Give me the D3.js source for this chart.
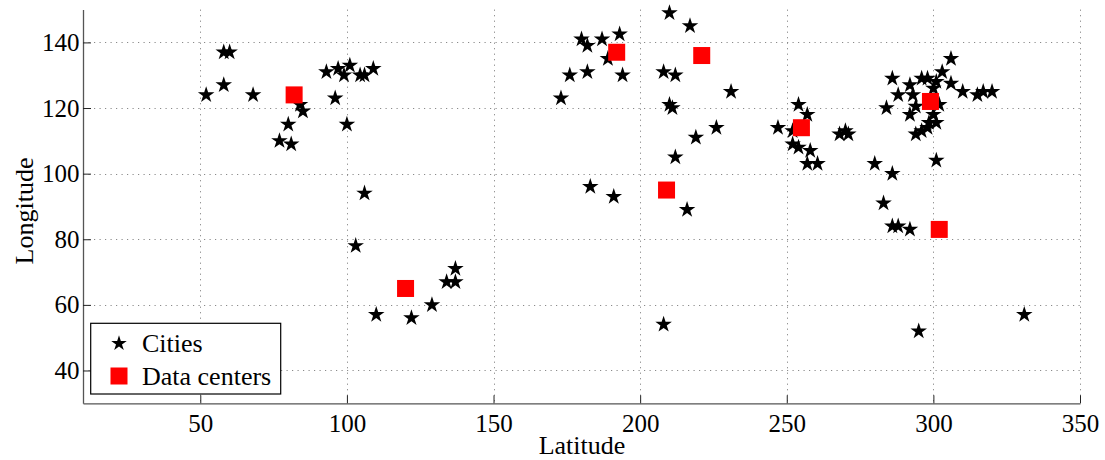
<!DOCTYPE html>
<html>
<head>
<meta charset="utf-8">
<script src="https://cdn.jsdelivr.net/npm/d3@7"></script>
<style>
html,body{margin:0;padding:0;background:#fff;}
svg{display:block;}
svg text{font-family:"Liberation Serif","Times New Roman",Times,serif !important;}
</style>
</head>
<body>
<svg id="chart" width="1105" height="460"></svg>
<script>
const cityLat = [52,58,58,60,68,84,85,80,77,81,93,97,99,101,104.5,106,109,96,100,106,103,110,122,129,134,137,137,
  173,176,180,182,182,187,189,193,194,183,191,208,210,212,217,210,211,212,219,226,231,216,208,
  247,254,257,252,252,254,258,257,260.5,268,270,271,280,286,284,283,286,288,292,295,331,
  286,292,296,298,303,306,301,300,306,310,288,293,294,292,300,301,298.5,298,296,294,315,317,320,301,302];
const cityLon = [124,127,137,137,124,121,119,115,110,109,131,132,130,133,130,130,132,123,115,94,78,57,56,60,67,67,71,
  123,130,141,139,131,141,135,142.5,130,96,93,131,149,130,145,121,120,105,111,114,125,89,54,
  114,121,118,113,109,108,107,103,103,112,113,112,103,100,120,91,84,84,83,52,57,
  129,127,129,129,131,135,128,126,127.5,125,124,124,120.5,118,118,115.5,115.5,114,113,112,124,125,125,104,121];
const dcLat = [82,120,192,209,221,255,299,302];
const dcLon = [124,65,137,95,136,114,122,83];
const xTicks = [50,100,150,200,250,300,350];
const yTicks = [40,60,80,100,120,140];
const legendLabels = ["Cities","Data centers"];

const svg = d3.select("#chart");
const L = 83, R = 1080, T = 9.6, B = 403.3;
const x = d3.scaleLinear().domain([10,350]).range([L,R]);
const y = d3.scaleLinear().domain([30,150]).range([B,T]);
const FONT = "Liberation Serif";

// grid
const grid = svg.append("g").attr("stroke","#8a8a8a").attr("stroke-width",1).attr("stroke-dasharray","1.2,4.3");
grid.selectAll(".gx").data(xTicks).join("line")
  .attr("x1",d=>Math.round(x(d))+0.5).attr("x2",d=>Math.round(x(d))+0.5).attr("y1",T).attr("y2",B);
grid.selectAll(".gy").data(yTicks).join("line")
  .attr("y1",d=>Math.round(y(d))+0.5).attr("y2",d=>Math.round(y(d))+0.5).attr("x1",L).attr("x2",R);

// axes
const xAxis = d3.axisBottom(x).tickValues(xTicks).tickSizeInner(-8).tickSizeOuter(0).tickPadding(10.5);
const yAxis = d3.axisLeft(y).tickValues(yTicks).tickSizeInner(-8).tickSizeOuter(0).tickPadding(3.5);
const gx = svg.append("g").attr("transform",`translate(0,${B})`).call(xAxis);
const gy = svg.append("g").attr("transform",`translate(${L},0)`).call(yAxis);
[gx,gy].forEach(g=>{
  g.attr("font-family",FONT).attr("font-size",25);
  g.select(".domain").attr("stroke","#555").attr("stroke-width",1.3);
  g.selectAll(".tick line").attr("stroke","#222");
  g.selectAll(".tick text").attr("font-family",FONT).attr("font-size",25).attr("fill","#000");
});

// data
const star = d3.symbol().type(d3.symbolStar).size(85);
const cities = cityLat.map((d,i)=>({lat:d,lon:cityLon[i]}));
svg.append("g").selectAll("path").data(cities).join("path")
  .attr("d",star).attr("transform",d=>`translate(${x(d.lat)},${y(d.lon)})`).attr("fill","#000");
const dcs = dcLat.map((d,i)=>({lat:d,lon:dcLon[i]}));
const S = 17;
svg.append("g").selectAll("rect").data(dcs).join("rect")
  .attr("x",d=>x(d.lat)-S/2).attr("y",d=>y(d.lon)-S/2).attr("width",S).attr("height",S).attr("fill","#ff0000");

// axis titles
svg.append("text").attr("x",582).attr("y",454).attr("text-anchor","middle")
  .attr("font-family",FONT).attr("font-size",26).text("Latitude");
svg.append("text").attr("transform","translate(33,211) rotate(-90)").attr("text-anchor","middle")
  .attr("font-family",FONT).attr("font-size",26).text("Longitude");

// legend
const lg = svg.append("g");
lg.append("rect").attr("x",90.7).attr("y",323.3).attr("width",190).attr("height",70.7)
  .attr("fill","#fff").attr("stroke","#000").attr("stroke-width",1.2);
lg.append("path").attr("d",d3.symbol().type(d3.symbolStar).size(75)).attr("transform","translate(119,343.5)");
lg.append("rect").attr("x",119-S/2).attr("y",376-S/2).attr("width",S).attr("height",S).attr("fill","#ff0000");
lg.selectAll("text").data(legendLabels).join("text")
  .attr("x",142).attr("y",(d,i)=>352+i*32.5).attr("font-family",FONT).attr("font-size",26).text(d=>d);
</script>
</body>
</html>
